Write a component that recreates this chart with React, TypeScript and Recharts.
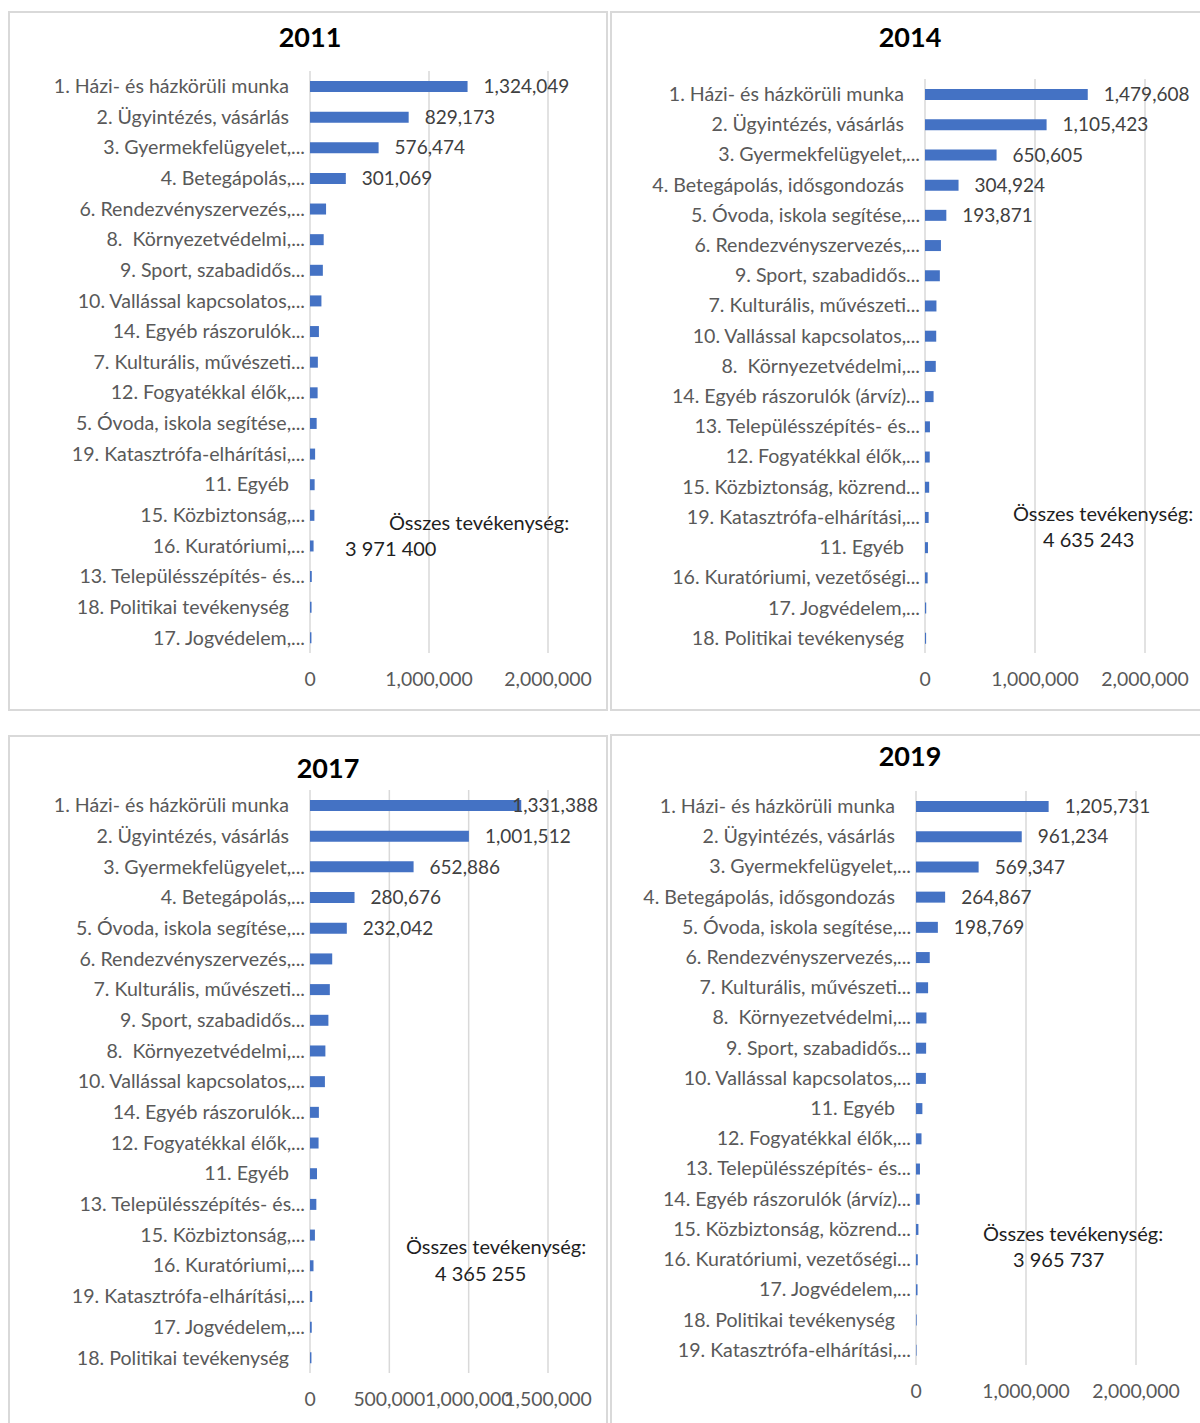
import { Bar, BarChart, CartesianGrid, LabelList, XAxis, YAxis } from "recharts";

const cats2011 = [
  "1. Házi- és házkörüli munka",
  "2. Ügyintézés, vásárlás",
  "3. Gyermekfelügyelet,...",
  "4. Betegápolás,...",
  "6. Rendezvényszervezés,...",
  "8.  Környezetvédelmi,...",
  "9. Sport, szabadidős...",
  "10. Vallással kapcsolatos,...",
  "14. Egyéb rászorulók...",
  "7. Kulturális, művészeti...",
  "12. Fogyatékkal élők,...",
  "5. Óvoda, iskola segítése,...",
  "19. Katasztrófa-elhárítási,...",
  "11. Egyéb",
  "15. Közbiztonság,...",
  "16. Kuratóriumi,...",
  "13. Településszépítés- és...",
  "18. Politikai tevékenység",
  "17. Jogvédelem,...",
];
const vals2011 = [
  1324049, 829173, 576474, 301069, 135000, 115000, 108000, 96000, 75000, 66000,
  64000, 56000, 43000, 39000, 37000, 30000, 15000, 13000, 12000,
];

const cats2014 = [
  "1. Házi- és házkörüli munka",
  "2. Ügyintézés, vásárlás",
  "3. Gyermekfelügyelet,...",
  "4. Betegápolás, idősgondozás",
  "5. Óvoda, iskola segítése,...",
  "6. Rendezvényszervezés,...",
  "9. Sport, szabadidős...",
  "7. Kulturális, művészeti...",
  "10. Vallással kapcsolatos,...",
  "8.  Környezetvédelmi,...",
  "14. Egyéb rászorulók (árvíz)...",
  "13. Településszépítés- és...",
  "12. Fogyatékkal élők,...",
  "15. Közbiztonság, közrend...",
  "19. Katasztrófa-elhárítási,...",
  "11. Egyéb",
  "16. Kuratóriumi, vezetőségi...",
  "17. Jogvédelem,...",
  "18. Politikai tevékenység",
];
const vals2014 = [
  1479608, 1105423, 650605, 304924, 193871, 145000, 135000, 104000, 102000, 98000,
  78000, 45000, 43000, 38000, 33000, 27000, 24000, 11000, 10000,
];

const cats2017 = [
  "1. Házi- és házkörüli munka",
  "2. Ügyintézés, vásárlás",
  "3. Gyermekfelügyelet,...",
  "4. Betegápolás,...",
  "5. Óvoda, iskola segítése,...",
  "6. Rendezvényszervezés,...",
  "7. Kulturális, művészeti...",
  "9. Sport, szabadidős...",
  "8.  Környezetvédelmi,...",
  "10. Vallással kapcsolatos,...",
  "14. Egyéb rászorulók...",
  "12. Fogyatékkal élők,...",
  "11. Egyéb",
  "13. Településszépítés- és...",
  "15. Közbiztonság,...",
  "16. Kuratóriumi,...",
  "19. Katasztrófa-elhárítási,...",
  "17. Jogvédelem,...",
  "18. Politikai tevékenység",
];
const vals2017 = [
  1331388, 1001512, 652886, 280676, 232042, 140000, 125000, 116000, 97000, 94000,
  56000, 54000, 44000, 40000, 31000, 22000, 14000, 11000, 9000,
];

const cats2019 = [
  "1. Házi- és házkörüli munka",
  "2. Ügyintézés, vásárlás",
  "3. Gyermekfelügyelet,...",
  "4. Betegápolás, idősgondozás",
  "5. Óvoda, iskola segítése,...",
  "6. Rendezvényszervezés,...",
  "7. Kulturális, művészeti...",
  "8.  Környezetvédelmi,...",
  "9. Sport, szabadidős...",
  "10. Vallással kapcsolatos,...",
  "11. Egyéb",
  "12. Fogyatékkal élők,...",
  "13. Településszépítés- és...",
  "14. Egyéb rászorulók (árvíz)...",
  "15. Közbiztonság, közrend...",
  "16. Kuratóriumi, vezetőségi...",
  "17. Jogvédelem,...",
  "18. Politikai tevékenység",
  "19. Katasztrófa-elhárítási,...",
];
const vals2019 = [
  1205731, 961234, 569347, 264867, 198769, 125000, 110000, 95000, 92000, 90000,
  58000, 50000, 36000, 34000, 22000, 16000, 14000, 6000, 5000,
];

const ticksWide = [0, 1000000, 2000000];
const ticks2017 = [0, 500000, 1000000, 1500000];

const totals = ["3 971 400", "4 635 243", "4 365 255", "3 965 737"];

const FONT = "Lato, 'Liberation Sans', sans-serif";
const BAR = "#4472C4";
const GRID = "#d9d9d9";
const TXT = "#595959";

const fmt = (v: number) => v.toLocaleString("en-US");

function CategoryTick(props: any) {
  const { x, y, payload } = props;
  const label = String(payload.value);
  const cut = label.endsWith("...");
  return (
    <text
      x={x + 8 - (cut ? 5 : 21)}
      y={y}
      dy="0.35em"
      textAnchor="end"
      fill={TXT}
      fontSize={19.6}
      fontFamily={FONT}
      style={{ whiteSpace: "pre" }}
    >
      {label}
    </text>
  );
}

type Box = { x: number; y: number; w: number; h: number };
type Plot = { left: number; right: number; top: number; bottom: number };

function Panel(props: {
  cats: string[];
  vals: number[];
  box: Box;
  plot: Plot;
  max: number;
  ticks: number[];
  labeled: number;
  labelMaxRight: number;
}) {
  const { cats, vals, box, plot, max, ticks, labeled, labelMaxRight } = props;
  const data = cats.map((name, i) => ({ name, value: vals[i] }));

  const renderLabel = (p: any) => {
    if (p.index >= labeled) return null;
    const vb = p.viewBox ?? p;
    const x = vb.x ?? p.x;
    const y = vb.y ?? p.y;
    const w = vb.width ?? p.width;
    const h = vb.height ?? p.height;
    const text = fmt(Number(p.value));
    let tx = x + w + 16;
    let anchor: "start" | "end" = "start";
    if (box.x + tx + text.length * 9.4 > labelMaxRight) {
      tx = labelMaxRight - box.x;
      anchor = "end";
    }
    return (
      <text x={tx} y={y + h / 2} dy="0.35em" textAnchor={anchor} fill="#404040" fontSize={19} fontFamily={FONT}>
        {text}
      </text>
    );
  };

  return (
    <div style={{ position: "absolute", left: box.x, top: box.y }}>
      <BarChart
        width={box.w}
        height={box.h}
        data={data}
        layout="vertical"
        margin={{ top: plot.top - box.y, right: box.x + box.w - plot.right, bottom: 0, left: 0 }}
      >
        <CartesianGrid horizontal={false} stroke={GRID} strokeWidth={1.5} />
        <XAxis
          type="number"
          domain={[0, max]}
          ticks={ticks}
          interval={0}
          height={box.y + box.h - plot.bottom}
          tickLine={false}
          axisLine={false}
          tickMargin={13}
          tickFormatter={fmt}
          tick={{ fill: TXT, fontSize: 19.4, fontFamily: FONT }}
        />
        <YAxis
          type="category"
          dataKey="name"
          width={plot.left - box.x}
          interval={0}
          tickLine={false}
          axisLine={false}
          tick={<CategoryTick />}
        />
        <Bar dataKey="value" fill={BAR} barSize={11} isAnimationActive={false}>
          <LabelList dataKey="value" content={renderLabel} />
        </Bar>
      </BarChart>
    </div>
  );
}

function Frame({ x, y, w, h }: Box) {
  return (
    <div
      style={{
        position: "absolute",
        left: x,
        top: y,
        width: w,
        height: h,
        border: `2px solid ${GRID}`,
        boxSizing: "border-box",
      }}
    />
  );
}

export default function App() {
  return (
    <div style={{ position: "absolute", left: 0, top: 0, width: 1200, height: 1423, background: "#fff", overflow: "hidden" }}>
      <Frame x={8} y={11} w={600} h={700} />
      <Frame x={610} y={11} w={600} h={700} />
      <Frame x={8} y={735} w={600} h={700} />
      <Frame x={610} y={734} w={600} h={700} />

      <Panel
        cats={cats2011}
        vals={vals2011}
        box={{ x: 10, y: 13, w: 595, h: 696 }}
        plot={{ left: 310, right: 548, top: 71, bottom: 653 }}
        max={2000000}
        ticks={ticksWide}
        labeled={4}
        labelMaxRight={600}
      />
      <Panel
        cats={cats2014}
        vals={vals2014}
        box={{ x: 612, y: 13, w: 588, h: 696 }}
        plot={{ left: 925, right: 1145, top: 79, bottom: 653 }}
        max={2000000}
        ticks={ticksWide}
        labeled={5}
        labelMaxRight={1198}
      />
      <Panel
        cats={cats2017}
        vals={vals2017}
        box={{ x: 10, y: 737, w: 595, h: 686 }}
        plot={{ left: 310, right: 548, top: 790, bottom: 1373 }}
        max={1500000}
        ticks={ticks2017}
        labeled={5}
        labelMaxRight={598}
      />
      <Panel
        cats={cats2019}
        vals={vals2019}
        box={{ x: 612, y: 736, w: 588, h: 687 }}
        plot={{ left: 916, right: 1136, top: 791, bottom: 1365 }}
        max={2000000}
        ticks={ticksWide}
        labeled={5}
        labelMaxRight={1198}
      />

      <svg width={1200} height={1423} style={{ position: "absolute", left: 0, top: 0, pointerEvents: "none" }}>
        <g fontFamily={FONT} fontWeight={700} fontSize={27} fill="#000" textAnchor="middle">
          <text x={310} y={47}>2011</text>
          <text x={910} y={47}>2014</text>
          <text x={328} y={778}>2017</text>
          <text x={910} y={766}>2019</text>
        </g>
        <g fontFamily={FONT} fontSize={20} fill="#1f1f1f">
          <text x={389} y={530}>Összes tevékenység:</text>
          <text x={345} y={556}>{totals[0]}</text>
          <text x={1013} y={521}>Összes tevékenység:</text>
          <text x={1043} y={547}>{totals[1]}</text>
          <text x={406} y={1254}>Összes tevékenység:</text>
          <text x={435} y={1281}>{totals[2]}</text>
          <text x={983} y={1241}>Összes tevékenység:</text>
          <text x={1013} y={1267}>{totals[3]}</text>
        </g>
      </svg>
    </div>
  );
}
